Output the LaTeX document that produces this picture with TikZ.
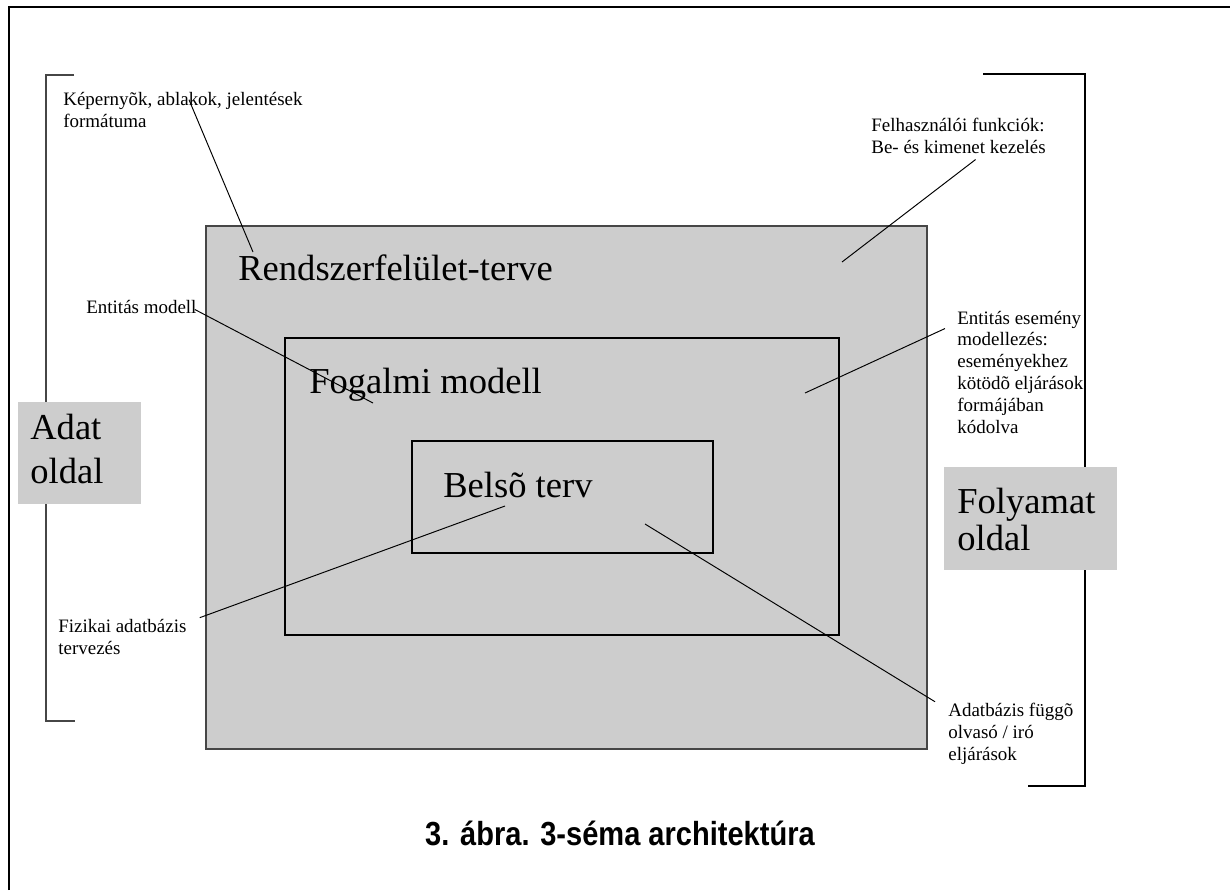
\documentclass[tikz,border=0pt]{standalone}
\usepackage{fontspec}
\setmainfont{Liberation Serif}
\newfontfamily\capfont{Liberation Sans}[FakeStretch=0.87]
\usetikzlibrary{calc}

\definecolor{boxgray}{RGB}{205,205,205}
\definecolor{edgegray}{RGB}{70,70,70}

\begin{document}
\begin{tikzpicture}[x=0.02cm, y=-0.02cm,
    small/.style={font=\fontsize{10.8}{12.4}\selectfont, align=left, inner sep=0pt, anchor=base west},
    big/.style={font=\fontsize{20.8}{25}\selectfont, align=left, inner sep=0pt, anchor=base west},
    lead/.style={line width=0.55pt}]

    \useasboundingbox (0,0) rectangle (1230,890);

    % frame
    \draw[line width=1.4pt] (9,890) -- (9,7) -- (1230,7);

    % brackets
    \draw[edgegray, line width=0.9pt] (74,75) -- (46,75) -- (46,721) -- (75,721);
    \draw[line width=0.8pt] (983,74) -- (1085,74) -- (1085,786) -- (1028,786);

    % side boxes
    \fill[boxgray] (18,402) rectangle (141,504);
    \fill[boxgray] (944,467) rectangle (1117,570);

    % nested layers
    \filldraw[fill=boxgray, draw=edgegray, line width=0.9pt] (206,226) rectangle (927,749);
    \draw[line width=0.6pt] (285,338) rectangle (839,635);
    \draw[line width=0.6pt] (412,441) rectangle (713,553);

    \node[big] (rendsz) at (238,280) {Rendszerfelület-terve};
    \node[big] (fogalmi) at (309,393) {Fogalmi modell};
    \node[big] (belso) at (443,497) {Belsõ terv};
    \node[big] (adat) at (30,483) {Adat\\oldal};
    \node[big, font=\fontsize{20.8}{21}\selectfont] (folyamat) at (957,550) {Folyamat\\oldal};

    % labels (placed by the baseline of their last line)
    \node[small] (kep) at (63,127) {Képernyõk, ablakok, jelentések\\formátuma};
    \node[small] (fel) at (871,153) {Felhasználói funkciók:\\Be- és kimenet kezelés};
    \node[small] (entmod) at (86,313) {Entitás modell};
    \node[small] (ent) at (957,433) {Entitás esemény\\modellezés:\\eseményekhez\\kötödõ eljárások\\formájában\\kódolva};
    \node[small] (fiz) at (58,654) {Fizikai adatbázis\\tervezés};
    \node[small] (adb) at (948,760) {Adatbázis függõ\\olvasó / iró\\eljárások};

    \coordinate (p1) at (253,252);
    \coordinate (p2) at (842,262);
    \coordinate (p3) at (373,403);
    \coordinate (p4) at (805,393);
    \coordinate (p5) at (505,506);
    \coordinate (p6) at (645,524);

    \draw[lead] ($(kep.north)+(6,8)$) -- (p1);
    \draw[lead] ($(fel.south)+(17,6)$) -- (p2);
    \draw[lead] ($(entmod.east)+(-2,3)$) -- (p3);
    \draw[lead] ($(ent.north west)+(-12,18)$) -- (p4);
    \draw[lead] ($(fiz.north east)+(13,-1)$) -- (p5);
    \draw[lead] ($(adb.north west)+(-13,-1)$) -- (p6);

    % caption
    \node[font=\capfont\bfseries\fontsize{19}{22}\selectfont, anchor=base, inner sep=0pt] (cap) at (620,845) {3. ábra. 3-séma architektúra};

\end{tikzpicture}
\end{document}
